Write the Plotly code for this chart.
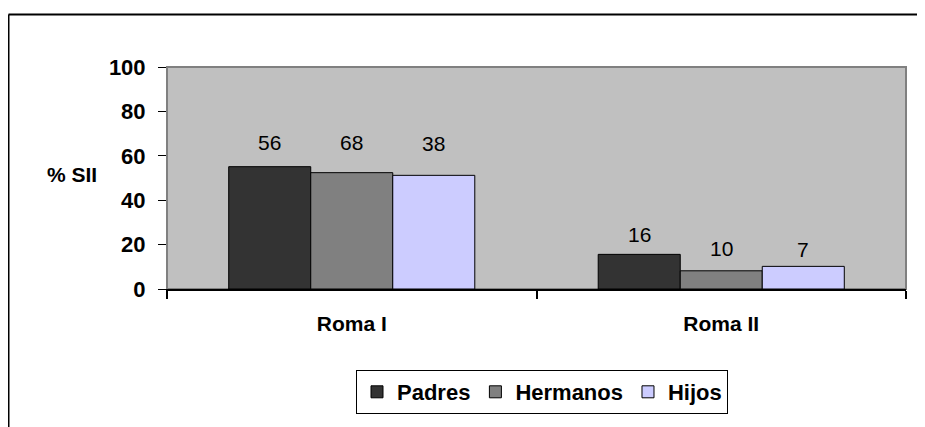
import plotly.graph_objects as go

categories = ["Roma I", "Roma II"]
series_names = ["Padres", "Hermanos", "Hijos"]
padres = [55.1, 15.6]
hermanos = [52.4, 8.2]
hijos = [51.2, 10.2]
padres_labels = ["56", "16"]
hermanos_labels = ["68", "10"]
hijos_labels = ["38", "7"]
y_ticks = [0, 20, 40, 60, 80, 100]

colors = ["#333333", "#808080", "#CCCCFF"]
# pixel offsets of value labels above bar tops (as drawn in the original)
label_shift = [[24, 20], [30, 22], [32, 17]]

BODY = 8  # default page margin of the html body
W, H = 925 - BODY, 427 - BODY
L, R, T, B = 167 - BODY, 19, 67 - BODY, 138
pw, ph = W - L - R, H - T - B
FONT = "Liberation Sans, Arial, sans-serif"

def px_x(x):
    return (x - 167) / pw

def px_y(y):
    return (289 - y) / ph

fig = go.Figure()
values = [padres, hermanos, hijos]
labels = [padres_labels, hermanos_labels, hijos_labels]
for name, vals, col in zip(series_names, values, colors):
    fig.add_trace(go.Bar(
        x=categories, y=vals, name=name,
        marker=dict(color=col, line=dict(color="#000000", width=1)),
    ))

fig.update_layout(
    barmode="group", bargap=0.334, bargroupgap=0,
    width=W, height=H,
    margin=dict(l=L, r=R, t=T, b=B, pad=0),
    paper_bgcolor="white", plot_bgcolor="#C0C0C0",
    font=dict(family=FONT, color="#000000"),
    showlegend=True,
    legend=dict(
        orientation="h", x=px_x(542), xanchor="center",
        y=px_y(370), yanchor="top",
        bgcolor="white", bordercolor="#000000", borderwidth=1,
        font=dict(size=22, family=FONT, weight="bold", color="#000000"),
        itemwidth=30, traceorder="normal",
    ),
)

fig.update_yaxes(
    range=[0, 100], tickvals=y_ticks, showgrid=False, zeroline=False,
    showline=True, linecolor="#808080", linewidth=1,
    ticks="outside", ticklen=8, tickcolor="#000000", tickwidth=1,
    tickfont=dict(size=22, family=FONT, weight="bold", color="#000000"),
    ticklabelstandoff=8,
)
fig.update_xaxes(
    showgrid=False, zeroline=False, showline=True, linecolor="#000000", linewidth=2,
    ticks="outside", tickson="boundaries", ticklen=8, tickcolor="#000000", tickwidth=2,
    tickfont=dict(size=21, family=FONT, weight="bold", color="#000000"),
    ticklabelstandoff=15,
)

# plot area border (gray)
fig.add_shape(type="rect", xref="paper", yref="paper", x0=0, y0=0, x1=1, y1=1,
              line=dict(color="#808080", width=2), layer="below")

# value labels
for si, (vals, labs) in enumerate(zip(values, labels)):
    for ci, (v, lab) in enumerate(zip(vals, labs)):
        fig.add_annotation(
            x=categories[ci], y=v, text=lab, showarrow=False,
            xshift=(si - 1) * 82, yshift=label_shift[si][ci],
            yanchor="middle", xanchor="center",
            font=dict(size=21, family=FONT, color="#000000"),
        )

# y axis title
fig.add_annotation(
    xref="paper", yref="paper", x=px_x(72), y=px_y(174),
    text="% SII", showarrow=False, xanchor="center", yanchor="middle",
    font=dict(size=21, family=FONT, weight="bold", color="#000000"),
)

# outer chart border (top and left visible)
x_left = px_x(8.5)
y_top = px_y(14.5)
fig.add_shape(type="line", xref="paper", yref="paper", x0=x_left, y0=y_top, x1=1.2, y1=y_top,
              line=dict(color="#000000", width=2))
fig.add_shape(type="line", xref="paper", yref="paper", x0=x_left, y0=y_top, x1=x_left, y1=-0.9,
              line=dict(color="#000000", width=2))

fig.write_html("out.html")
